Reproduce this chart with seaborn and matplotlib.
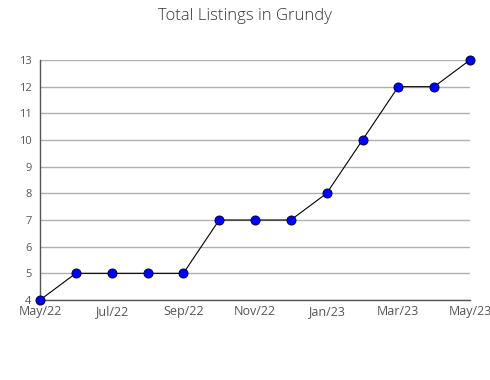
import matplotlib
matplotlib.use("Agg")
import matplotlib.pyplot as plt
import seaborn as sns
import pandas as pd

months = ["May/22", "Jun/22", "Jul/22", "Aug/22", "Sep/22", "Oct/22", "Nov/22",
          "Dec/22", "Jan/23", "Feb/23", "Mar/23", "Apr/23", "May/23"]
listings = [4, 5, 5, 5, 5, 7, 7, 7, 8, 10, 12, 12, 13]
y_ticks = list(range(4, 14))

sns.set_style("white")
plt.rcParams['font.family'] = ['Open Sans', 'DejaVu Sans']

df = pd.DataFrame({"idx": range(len(months)), "month": months, "value": listings})

fig = plt.figure(figsize=(4.9, 3.8), dpi=100)
ax = fig.add_axes([40/490, 80/380, 430/490, 240/380])

sns.lineplot(data=df, x="idx", y="value", ax=ax, color="black", linewidth=0.8,
             marker="o", markersize=6.5, markerfacecolor="#0000ff",
             markeredgecolor="#000044", markeredgewidth=0.7, zorder=3, clip_on=False)

ax.set_xlim(0, len(months) - 1)
ax.set_ylim(4, 13)
ax.set_xticks(range(0, len(months), 2))
ax.set_xticklabels([months[i] for i in range(0, len(months), 2)])
ax.set_xticks(range(len(months)), minor=True)
ax.set_yticks(y_ticks)
ax.set_yticks([v + 0.5 for v in y_ticks[:-1]], minor=True)
ax.grid(axis="y", color="#b0b0b0", linewidth=1)
ax.set_axisbelow(True)
for s in ["top", "right"]:
    ax.spines[s].set_visible(False)
for s in ["left", "bottom"]:
    ax.spines[s].set_color("#555555")
    ax.spines[s].set_linewidth(1)
ax.tick_params(axis="both", which="both", direction="in", colors="#555555",
               labelcolor="#555555", length=5, width=1)
ax.tick_params(axis="y", which="major", length=0, pad=6, labelsize=8)
ax.tick_params(axis="x", which="major", length=0, pad=3.5, labelsize=9)
ax.set_xlabel("")
ax.set_ylabel("")
fig.suptitle("Total Listings in Grundy", y=0.98, fontsize=12, color="#333333",
             fontweight="light")

fig.savefig("out.png", dpi=100)
